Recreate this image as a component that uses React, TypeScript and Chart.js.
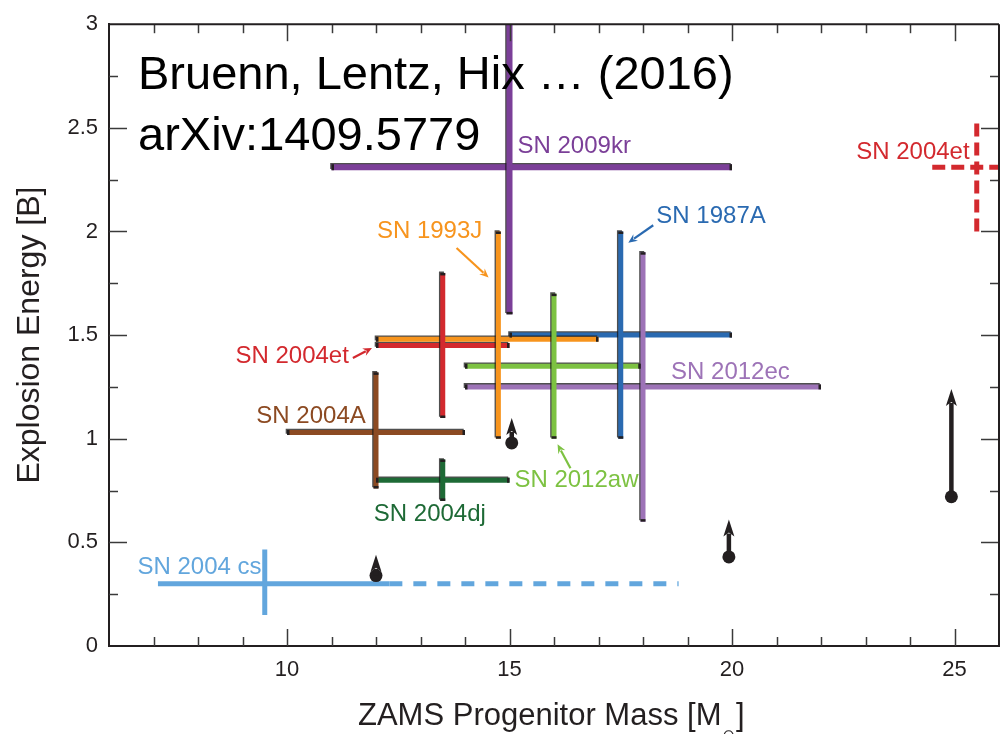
import React, { useEffect, useRef } from 'react';
import { Chart, registerables } from 'chart.js';

Chart.register(...registerables);

const FONT = "'Liberation Sans', Arial, Helvetica, sans-serif";
const INK = '#231F20';

// ---- Data ----
const SN_NAMES = ['SN 2009kr', 'SN 1993J', 'SN 1987A', 'SN 2004et', 'SN 2012aw', 'SN 2012ec', 'SN 2004A', 'SN 2004dj', 'SN 2004 cs'];
const MASS = [15, 14.75, 17.5, 13.5, 16, 18, 12, 13.5, 9.5];
const MASS_LO = [11, 12, 15, 12, 14, 14, 10, 12, 7.1];
const MASS_HI = [20, 17, 20, 15, 17.95, 22, 14, 15, 12.3];
const ENERGY = [2.31, 1.48, 1.5, 1.45, 1.35, 1.25, 1.03, 0.8, 0.3];
const ENERGY_LO = [1.6, 1.0, 1.0, 1.1, 1.0, 0.6, 0.76, 0.7, 0.15];
const ENERGY_HI = [3.0, 2.0, 2.0, 1.8, 1.7, 1.9, 1.32, 0.9, 0.465];

// SN 2004 cs: dashed upper-mass extension
const CS_EXT_MASS = [12.3, 18.8];
const CS_EXT_ENERGY = 0.3;

// SN 2004et alternative (dashed, right edge)
const ALT_MASS = 25.5;
const ALT_MASS_RANGE = [24.5, 26.5];
const ALT_ENERGY = 2.31;
const ALT_ENERGY_RANGE = [2.0, 2.55];

// Lower limits (dot + upward arrow)
const LIMIT_MASS = [12, 15.05, 19.93, 24.93];
const LIMIT_ENERGY = [0.34, 0.98, 0.43, 0.72];
const LIMIT_TIP = [0.44, 1.1, 0.61, 1.24];

// Axis tick labels
const X_TICK_LABELS = [10, 15, 20, 25];
const Y_TICK_LABELS = [0, 0.5, 1, 1.5, 2, 2.5, 3];

// ---- Styles ----
const SN_COLORS = ['#7B3F98', '#F7941D', '#2A6AB1', '#D3292E', '#7DC242', '#9D73B7', '#8C4A22', '#1E6A36', '#62A6DD'];
const SN_WIDTHS = [6, 5, 5, 5, 5, 5, 5, 5, 5];
const SN_DECORATED = [true, true, true, true, true, true, true, true, false];

// Text annotations (data coordinates)
const LABEL_TEXT = ['SN 2009kr', 'SN 2004et', 'SN 1993J', 'SN 1987A', 'SN 2004et', 'SN 2012ec', 'SN 2004A', 'SN 2012aw', 'SN 2004dj', 'SN 2004 cs'];
const LABEL_X = [15.18, 25.34, 12.02, 18.3, 11.39, 18.63, 11.77, 15.11, 11.95, 6.64];
const LABEL_Y = [2.41, 2.38, 2.0, 2.075, 1.395, 1.32, 1.107, 0.8, 0.637, 0.379];
const LABEL_ALIGN = ['left', 'right', 'left', 'left', 'right', 'left', 'right', 'left', 'left', 'left'];
const LABEL_COLOR = ['#7B3F98', '#D3292E', '#F7941D', '#2A6AB1', '#D3292E', '#9D73B7', '#8C4A22', '#7DC242', '#1E6A36', '#62A6DD'];

// Pointer arrows for labels
const POINTER_FROM = [[11.48, 1.39], [13.81, 1.92], [18.23, 2.03], [16.37, 0.858]];
const POINTER_TO = [[11.91, 1.438], [14.53, 1.778], [17.67, 1.946], [16.08, 0.973]];
const POINTER_COLOR = ['#D3292E', '#F7941D', '#2A6AB1', '#7DC242'];

type Info = { shadow: boolean; caps: boolean };

function buildDatasets() {
  const datasets: any[] = [];
  const info: Info[] = [];
  // Horizontal bars (mass ranges)
  SN_NAMES.forEach((name, i) => {
    datasets.push({
      label: name + ' mass',
      data: [{ x: MASS_LO[i], y: ENERGY[i] }, { x: MASS_HI[i], y: ENERGY[i] }],
      showLine: true,
      borderColor: SN_COLORS[i],
      borderWidth: SN_WIDTHS[i],
      borderCapStyle: 'butt',
      pointRadius: 0,
      order: 3,
    });
    info.push({ shadow: SN_DECORATED[i], caps: SN_DECORATED[i] });
  });
  // Vertical bars (energy ranges)
  SN_NAMES.forEach((name, i) => {
    datasets.push({
      label: name + ' energy',
      data: [{ x: MASS[i], y: ENERGY_LO[i] }, { x: MASS[i], y: ENERGY_HI[i] }],
      showLine: true,
      borderColor: SN_COLORS[i],
      borderWidth: SN_WIDTHS[i],
      borderCapStyle: 'butt',
      pointRadius: 0,
      order: 2,
    });
    info.push({ shadow: SN_DECORATED[i], caps: SN_DECORATED[i] });
  });
  // SN 2004 cs dashed extension
  datasets.push({
    label: 'SN 2004 cs upper',
    data: CS_EXT_MASS.map((m) => ({ x: m, y: CS_EXT_ENERGY })),
    showLine: true,
    borderColor: SN_COLORS[8],
    borderWidth: 5,
    borderDash: [13, 11],
    borderCapStyle: 'butt',
    pointRadius: 0,
    order: 3,
  });
  info.push({ shadow: false, caps: false });
  // SN 2004et alternative, dashed
  datasets.push({
    label: 'SN 2004et alt mass',
    data: ALT_MASS_RANGE.map((m) => ({ x: m, y: ALT_ENERGY })),
    showLine: true,
    borderColor: SN_COLORS[3],
    borderWidth: 5,
    borderDash: [13, 6],
    borderCapStyle: 'butt',
    pointRadius: 0,
    order: 3,
  });
  info.push({ shadow: false, caps: false });
  datasets.push({
    label: 'SN 2004et alt energy',
    data: ALT_ENERGY_RANGE.map((e) => ({ x: ALT_MASS, y: e })),
    showLine: true,
    borderColor: SN_COLORS[3],
    borderWidth: 5,
    borderDash: [13, 6],
    borderCapStyle: 'butt',
    pointRadius: 0,
    order: 2,
  });
  info.push({ shadow: false, caps: false });
  // Lower-limit dots
  datasets.push({
    label: 'lower limits',
    data: LIMIT_MASS.map((m, i) => ({ x: m, y: LIMIT_ENERGY[i] })),
    showLine: false,
    pointRadius: 6.5,
    pointBackgroundColor: INK,
    pointBorderWidth: 0,
    order: 0,
  });
  info.push({ shadow: false, caps: false });
  return { datasets, info };
}

function line(ctx: CanvasRenderingContext2D, x1: number, y1: number, x2: number, y2: number) {
  ctx.beginPath();
  ctx.moveTo(x1, y1);
  ctx.lineTo(x2, y2);
  ctx.stroke();
}

export default function App() {
  const ref = useRef<HTMLCanvasElement>(null);

  useEffect(() => {
    const { datasets, info } = buildDatasets();

    const decorPlugin = {
      id: 'decor',
      beforeDatasetDraw(chart: any, args: any) {
        const inf = info[args.index];
        if (inf && inf.shadow) {
          const ctx = chart.ctx;
          ctx.save();
          ctx.shadowColor = 'rgba(20,20,20,0.75)';
          ctx.shadowOffsetX = -1.3;
          ctx.shadowOffsetY = -1.3;
          ctx.shadowBlur = 0;
        }
      },
      afterDatasetDraw(chart: any, args: any) {
        const inf = info[args.index];
        if (inf && inf.shadow) chart.ctx.restore();
      },
      afterDatasetsDraw(chart: any) {
        const ctx: CanvasRenderingContext2D = chart.ctx;
        const xs = chart.scales.x;
        const ys = chart.scales.y;
        const { top } = chart.chartArea;
        // end caps
        ctx.save();
        ctx.fillStyle = INK;
        info.forEach((inf, i) => {
          if (!inf.caps) return;
          const meta = chart.getDatasetMeta(i);
          const w = datasets[i].borderWidth;
          const p0 = meta.data[0];
          const p1 = meta.data[1];
          const horiz = Math.abs(p0.y - p1.y) < 0.5;
          [p0, p1].forEach((p: any, k: number) => {
            if (p.y <= top + 0.5) return;
            if (horiz) {
              const dir = k === 0 ? 1 : -1;
              ctx.fillRect(dir > 0 ? p.x : p.x - 2.5, p.y - w / 2, 2.5, w);
            } else {
              const goingUp = k === 0 ? p0.y > p1.y : p1.y > p0.y;
              // cap at the end of the segment
              const yEnd = p.y;
              const inward = (k === 0 ? p1.y : p0.y) > yEnd ? 1 : -1;
              ctx.fillRect(p.x - w / 2, inward > 0 ? yEnd : yEnd - 2.5, w, 2.5);
              void goingUp;
            }
          });
        });
        ctx.restore();

        // lower-limit arrows
        ctx.save();
        ctx.strokeStyle = INK;
        ctx.fillStyle = INK;
        ctx.lineWidth = 4.5;
        LIMIT_MASS.forEach((m, i) => {
          const px = xs.getPixelForValue(m);
          const pb = ys.getPixelForValue(LIMIT_ENERGY[i]);
          const pt = ys.getPixelForValue(LIMIT_TIP[i]);
          const hl = 17;
          const hw = 11;
          if (pb > pt + hl - 2) line(ctx, px, pb, px, pt + hl - 3);
          ctx.beginPath();
          ctx.moveTo(px, pt);
          ctx.lineTo(px + hw / 2, pt + hl);
          ctx.lineTo(px, pt + hl - 4);
          ctx.lineTo(px - hw / 2, pt + hl);
          ctx.closePath();
          ctx.fill();
        });
        ctx.restore();

        // pointer arrows
        ctx.save();
        POINTER_FROM.forEach((f, i) => {
          const t = POINTER_TO[i];
          const x1 = xs.getPixelForValue(f[0]);
          const y1 = ys.getPixelForValue(f[1]);
          const x2 = xs.getPixelForValue(t[0]);
          const y2 = ys.getPixelForValue(t[1]);
          const ang = Math.atan2(y2 - y1, x2 - x1);
          const hl = 9;
          const hw = 4;
          ctx.strokeStyle = POINTER_COLOR[i];
          ctx.fillStyle = POINTER_COLOR[i];
          ctx.lineWidth = 2.2;
          line(ctx, x1, y1, x2 - Math.cos(ang) * (hl - 2), y2 - Math.sin(ang) * (hl - 2));
          ctx.beginPath();
          ctx.moveTo(x2, y2);
          ctx.lineTo(x2 - Math.cos(ang) * hl - Math.sin(ang) * hw, y2 - Math.sin(ang) * hl + Math.cos(ang) * hw);
          ctx.lineTo(x2 - Math.cos(ang) * (hl - 3), y2 - Math.sin(ang) * (hl - 3));
          ctx.lineTo(x2 - Math.cos(ang) * hl + Math.sin(ang) * hw, y2 - Math.sin(ang) * hl - Math.cos(ang) * hw);
          ctx.closePath();
          ctx.fill();
        });
        ctx.restore();

        // labels
        ctx.save();
        ctx.font = `24px ${FONT}`;
        ctx.textBaseline = 'middle';
        LABEL_TEXT.forEach((txt, i) => {
          ctx.fillStyle = LABEL_COLOR[i];
          ctx.textAlign = LABEL_ALIGN[i] as CanvasTextAlign;
          ctx.fillText(txt, xs.getPixelForValue(LABEL_X[i]), ys.getPixelForValue(LABEL_Y[i]));
        });
        ctx.restore();
      },
      afterDraw(chart: any) {
        const ctx: CanvasRenderingContext2D = chart.ctx;
        const xs = chart.scales.x;
        const ys = chart.scales.y;
        const { left, right, top, bottom } = chart.chartArea;
        ctx.save();
        // inward ticks on all four sides
        ctx.strokeStyle = '#3a3a3a';
        ctx.lineWidth = 1.5;
        for (let v = xs.min + 1; v < xs.max; v++) {
          const px = Math.round(xs.getPixelForValue(v)) + 0.5;
          const len = v % 5 === 0 ? 17 : 9;
          line(ctx, px, bottom, px, bottom - len);
          line(ctx, px, top, px, top + len);
        }
        for (let k = 1; k < 12; k++) {
          const v = k * 0.25;
          const py = Math.round(ys.getPixelForValue(v)) + 0.5;
          const len = k % 2 === 0 ? 18 : 9;
          line(ctx, left, py, left + len, py);
          line(ctx, right, py, right - len, py);
        }
        // top and right frame
        ctx.strokeStyle = INK;
        ctx.lineWidth = 2;
        line(ctx, left - 1, top, right, top);
        line(ctx, right, top, right, bottom + 1);

        // headline
        ctx.fillStyle = '#000';
        ctx.textAlign = 'left';
        ctx.textBaseline = 'alphabetic';
        ctx.font = `47px ${FONT}`;
        ctx.fillText('Bruenn, Lentz, Hix \u2026 (2016)', left + 29, top + 65);
        ctx.fillText('arXiv:1409.5779', left + 29, top + 126);

        // x-axis title with subscript
        ctx.fillStyle = INK;
        ctx.font = `31px ${FONT}`;
        const main = 'ZAMS Progenitor Mass [M';
        const x0 = left + 249;
        const base = 725;
        ctx.fillText(main, x0, base);
        const w1 = ctx.measureText(main).width;
        ctx.font = `15px 'DejaVu Sans', ${FONT}`;
        ctx.textBaseline = 'middle';
        ctx.fillText('\u2299', x0 + w1 + 1, base + 11);
        const w2 = ctx.measureText('\u2299').width;
        ctx.font = `31px ${FONT}`;
        ctx.textBaseline = 'alphabetic';
        ctx.fillText(']', x0 + w1 + w2 + 2, base);
        ctx.restore();
      },
    };

    const chart = new Chart(ref.current as HTMLCanvasElement, {
      type: 'scatter',
      data: { datasets },
      options: {
        animation: false,
        responsive: false,
        devicePixelRatio: 1,
        layout: { padding: { top: 20, right: 9, bottom: 0, left: 0 } },
        plugins: { legend: { display: false }, tooltip: { enabled: false } },
        scales: {
          x: {
            type: 'linear',
            min: 6,
            max: 26,
            grid: { display: false, drawTicks: false },
            border: { display: true, color: INK, width: 2 },
            ticks: {
              stepSize: 1,
              autoSkip: false,
              maxRotation: 0,
              padding: 11,
              color: INK,
              font: { family: FONT, size: 22 },
              callback: (v: any) => (X_TICK_LABELS.includes(Number(v)) ? String(v) : ''),
            },
            afterFit: (s: any) => {
              s.height = 88;
            },
          },
          y: {
            type: 'linear',
            min: 0,
            max: 3,
            grid: { display: false, drawTicks: false },
            border: { display: true, color: INK, width: 2 },
            ticks: {
              stepSize: 0.5,
              padding: 11,
              color: INK,
              font: { family: FONT, size: 22 },
              callback: (v: any) => (Y_TICK_LABELS.includes(Number(v)) ? String(Number(v)) : ''),
            },
            title: {
              display: true,
              text: 'Explosion Energy [B]',
              color: INK,
              font: { family: FONT, size: 32 },
              padding: { top: 11, bottom: 0 },
            },
            afterFit: (s: any) => {
              s.width = 109;
            },
          },
        },
      } as any,
      plugins: [decorPlugin],
    });
    return () => chart.destroy();
  }, []);

  return (
    <div style={{ position: 'fixed', left: 0, top: 0, width: '100vw', height: 734, overflow: 'hidden', background: '#fff' }}>
      <canvas ref={ref} width={1010} height={734} style={{ display: 'block', width: 1010, height: 734 }} />
    </div>
  );
}
